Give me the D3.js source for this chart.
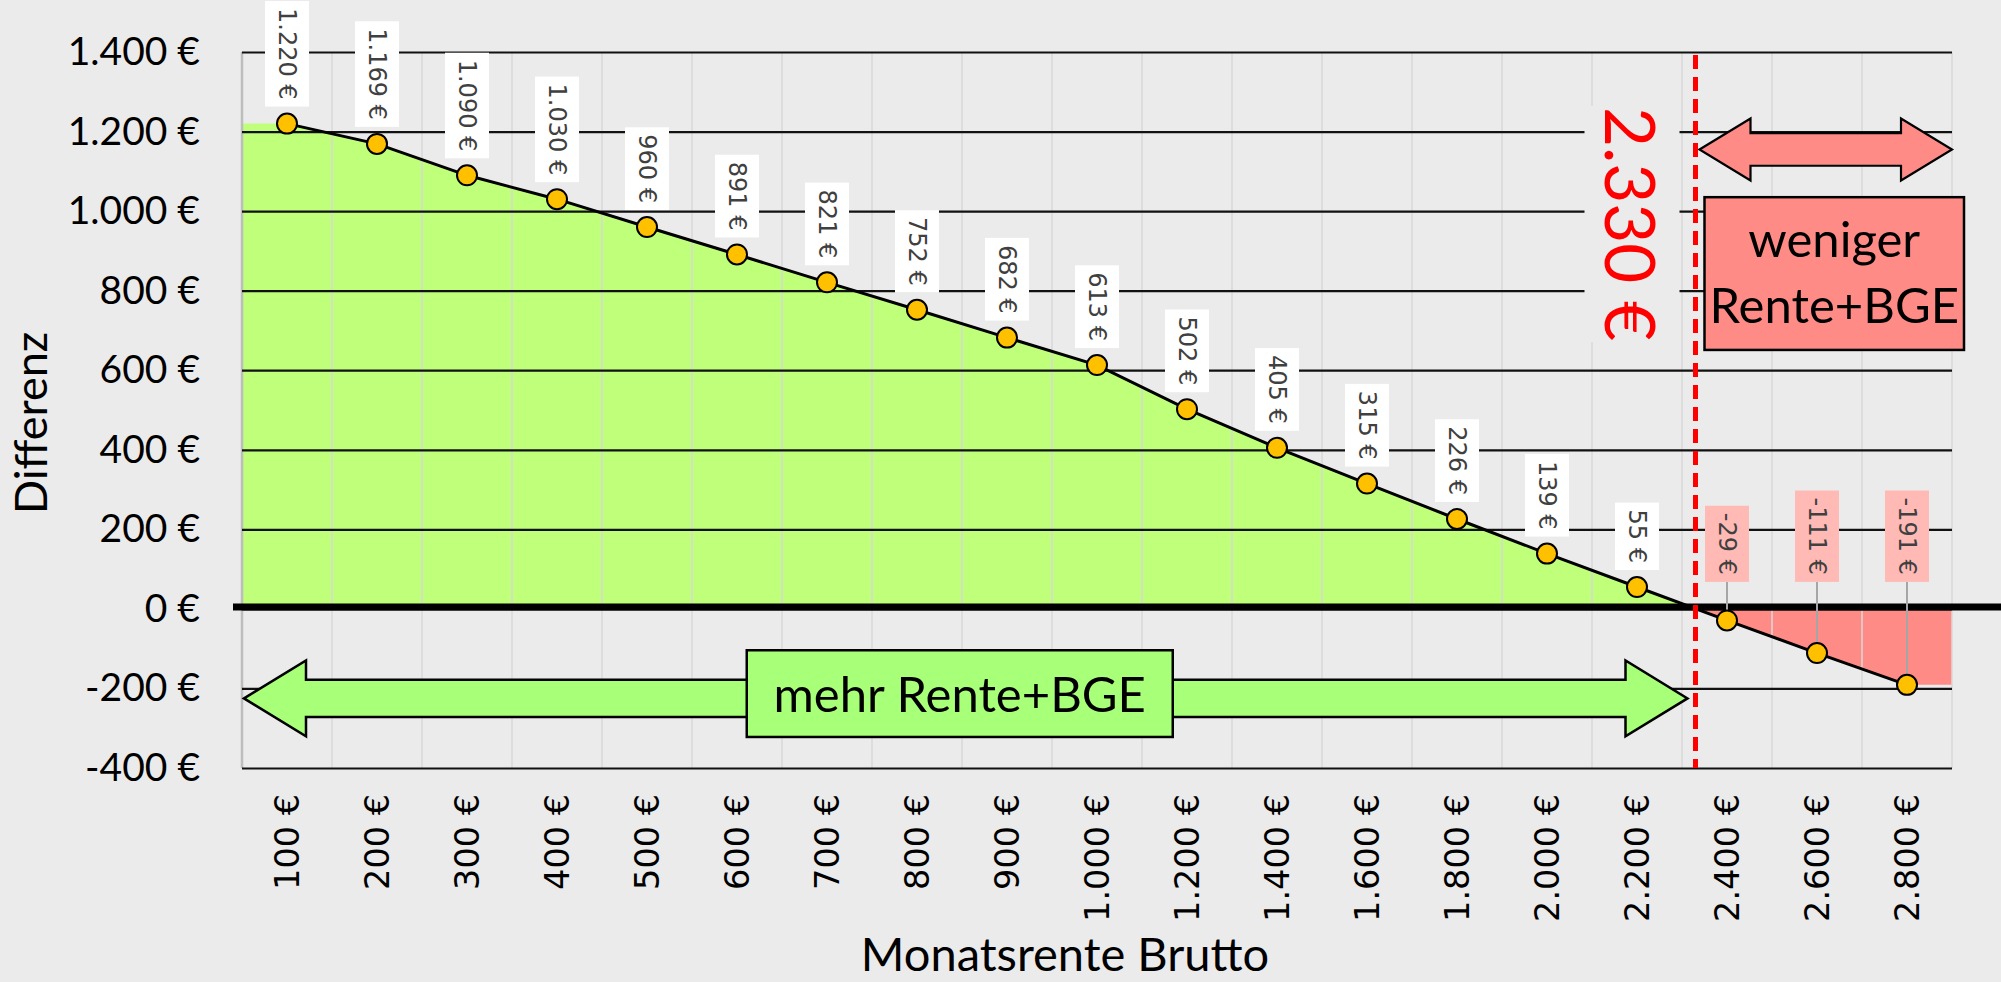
<!DOCTYPE html>
<html>
<head>
<meta charset="utf-8">
<script src="https://cdn.jsdelivr.net/npm/d3@7"></script>
<style>
  body { margin: 0; background: #ebebeb; }
  svg { display: block; }
</style>
</head>
<body>
<div id="chart"></div>
<script>
// Monatsrente Brutto -> Differenz
const categories = [100, 200, 300, 400, 500, 600, 700, 800, 900, 1000, 1200, 1400, 1600, 1800, 2000, 2200, 2400, 2600, 2800];
const diffValues = [1220, 1169, 1090, 1030, 960, 891, 821, 752, 682, 613, 502, 405, 315, 226, 139, 55, -29, -111, -191];
const yTickValues = [-400, -200, 0, 200, 400, 600, 800, 1000, 1200, 1400];
const breakEven = 2330;
const xTitle = 'Monatsrente Brutto';
const yTitle = 'Differenz';
const moreText = 'mehr Rente+BGE';
const lessText = ['weniger', 'Rente+BGE'];

const width = 2001, height = 982;
const margin = {top: 52, right: 49, bottom: 214, left: 242};
const calibri = 'Lato, "Open Sans", sans-serif';
const verdana = '"DejaVu Sans", sans-serif';

const de = d3.formatLocale({decimal: ',', thousands: '.', grouping: [3], currency: ['', ' €'], minus: '-'});
const euro = de.format('$,.0f');

const svg = d3.select('#chart').append('svg')
    .attr('width', width)
    .attr('height', height);

svg.append('rect').attr('width', width).attr('height', height).attr('fill', '#ebebeb');

const x = d3.scaleBand()
    .domain(categories)
    .range([margin.left, width - margin.right]);

const y = d3.scaleLinear()
    .domain([-400, 1400])
    .range([height - margin.bottom, margin.top]);

const xc = c => x(c) + x.bandwidth() / 2;
const plotL = margin.left, plotR = width - margin.right;
const plotT = margin.top, plotB = height - margin.bottom;

const points = categories.map((c, i) => ({c: c, v: diffValues[i], cx: xc(c), cy: y(diffValues[i])}));

// x position of the break-even value between two categories
const bi = d3.bisectRight(categories, breakEven) - 1;
const bt = (breakEven - categories[bi]) / (categories[bi + 1] - categories[bi]);
const breakX = xc(categories[bi]) + bt * (xc(categories[bi + 1]) - xc(categories[bi]));

// area, flat to the plot edges
const areaData = [{px: plotL, v: diffValues[0]}]
    .concat(points.map(p => ({px: p.cx, v: p.v})))
    .concat([{px: plotR, v: diffValues[diffValues.length - 1]}]);

const area = d3.area().x(d => d.px).y0(y(0)).y1(d => y(d.v));

const defs = svg.append('defs');
defs.append('clipPath').attr('id', 'above')
    .append('rect').attr('x', 0).attr('y', 0).attr('width', width).attr('height', y(0));
defs.append('clipPath').attr('id', 'below')
    .append('rect').attr('x', 0).attr('y', y(0)).attr('width', width).attr('height', height);

svg.append('path').datum(areaData).attr('d', area)
    .attr('fill', '#bfff7a').attr('clip-path', 'url(#above)');
svg.append('path').datum(areaData).attr('d', area)
    .attr('fill', '#ff8b87').attr('clip-path', 'url(#below)');

// vertical grid between categories
svg.append('g').selectAll('line')
    .data(d3.range(categories.length + 1))
    .join('line')
    .attr('x1', k => plotL + k * x.step())
    .attr('x2', k => plotL + k * x.step())
    .attr('y1', plotT)
    .attr('y2', plotB)
    .attr('stroke', k => k === 0 ? '#bdbdbd' : '#d9d9d9')
    .attr('stroke-width', k => k === 0 ? 2.5 : 1.5);

// y axis with horizontal grid
const yAxis = d3.axisLeft(y)
    .tickValues(yTickValues)
    .tickFormat(euro)
    .tickSize(-(plotR - plotL))
    .tickPadding(42);

const gy = svg.append('g')
    .attr('transform', `translate(${plotL},0)`)
    .call(yAxis);
gy.select('.domain').remove();
gy.selectAll('line').attr('stroke', '#111').attr('stroke-width', 2.2);
gy.selectAll('text')
    .attr('font-family', calibri)
    .attr('font-size', 39)
    .attr('fill', '#000');

// thick zero line
svg.append('line')
    .attr('x1', plotL - 9).attr('x2', width)
    .attr('y1', y(0) - 2).attr('y2', y(0) - 2)
    .attr('stroke', '#000').attr('stroke-width', 7);

// x axis labels
const xAxis = d3.axisBottom(x).tickSize(0).tickFormat(euro);
const gx = svg.append('g')
    .attr('transform', `translate(0,${plotB})`)
    .call(xAxis);
gx.select('.domain').remove();
gx.selectAll('text')
    .attr('font-family', verdana)
    .attr('font-size', 33.5)
    .attr('fill', '#000')
    .attr('text-anchor', 'end')
    .attr('transform', 'rotate(-90)')
    .attr('x', -26)
    .attr('y', 0)
    .attr('dy', '0.36em');

// axis titles
svg.append('text')
    .attr('x', 1065).attr('y', 971)
    .attr('text-anchor', 'middle')
    .attr('font-family', calibri).attr('font-size', 47)
    .text(xTitle);

svg.append('text')
    .attr('transform', 'translate(30,423) rotate(-90)')
    .attr('text-anchor', 'middle')
    .attr('dominant-baseline', 'central')
    .attr('font-family', calibri).attr('font-size', 45)
    .text(yTitle);

// arrows
function doubleArrow(x0, x1, cy, shaftH, headH, headL) {
    return `M${x0},${cy} L${x0 + headL},${cy - headH} L${x0 + headL},${cy - shaftH} L${x1 - headL},${cy - shaftH}` +
        ` L${x1 - headL},${cy - headH} L${x1},${cy} L${x1 - headL},${cy + headH} L${x1 - headL},${cy + shaftH}` +
        ` L${x0 + headL},${cy + shaftH} L${x0 + headL},${cy + headH} Z`;
}

const greenL = plotL + 2, greenR = breakX - 8;
svg.append('path')
    .attr('d', doubleArrow(greenL, greenR, y(-225), 18.7, 38, 62))
    .attr('fill', '#a8ff78').attr('stroke', '#000').attr('stroke-width', 2.5);

const moreCx = (greenL + greenR) / 2 - 6;
svg.append('rect')
    .attr('x', moreCx - 213).attr('y', y(-104))
    .attr('width', 426).attr('height', y(-322) - y(-104))
    .attr('fill', '#a8ff78').attr('stroke', '#000').attr('stroke-width', 2.5);
svg.append('text')
    .attr('x', moreCx).attr('y', y(-260))
    .attr('text-anchor', 'middle')
    .attr('font-family', calibri).attr('font-size', 49)
    .text(moreText);

svg.append('path')
    .attr('d', doubleArrow(breakX + 4, plotR, y(1155), 16.3, 31, 51))
    .attr('fill', '#ff8b87').attr('stroke', '#000').attr('stroke-width', 2.2);

const lessL = breakX + 9, lessR = plotR + 12;
svg.append('rect')
    .attr('x', lessL).attr('y', y(1035))
    .attr('width', lessR - lessL).attr('height', y(651) - y(1035))
    .attr('fill', '#ff8b87').attr('stroke', '#000').attr('stroke-width', 2.5);
svg.append('g').selectAll('text')
    .data(lessText)
    .join('text')
    .attr('x', (lessL + lessR) / 2)
    .attr('y', (d, i) => 257 + i * 66)
    .attr('text-anchor', 'middle')
    .attr('font-family', calibri).attr('font-size', 49)
    .text(d => d);

// break-even value
svg.append('rect')
    .attr('x', breakX - 111).attr('y', 106)
    .attr('width', 95).attr('height', 236)
    .attr('fill', '#ebebeb');
svg.append('text')
    .attr('transform', `translate(${breakX - 64},224) rotate(90)`)
    .attr('text-anchor', 'middle')
    .attr('dominant-baseline', 'central')
    .attr('font-family', calibri).attr('font-size', 69)
    .attr('fill', '#ff0000')
    .text(euro(breakEven));

// series line and labels
const labelBottom = p => Math.min(p.cy - 17, y(0) - 27);

svg.append('g').selectAll('line')
    .data(points.filter(p => labelBottom(p) < p.cy - 18))
    .join('line')
    .attr('x1', p => p.cx).attr('x2', p => p.cx)
    .attr('y1', p => labelBottom(p)).attr('y2', p => p.cy)
    .attr('stroke', '#a6a6a6').attr('stroke-width', 2);

svg.append('path')
    .datum(points)
    .attr('d', d3.line().x(p => p.cx).y(p => p.cy))
    .attr('fill', 'none').attr('stroke', '#000').attr('stroke-width', 3);

svg.append('g').selectAll('circle')
    .data(points)
    .join('circle')
    .attr('cx', p => p.cx).attr('cy', p => p.cy).attr('r', 10)
    .attr('fill', '#ffc000').attr('stroke', '#000').attr('stroke-width', 2);

const labels = svg.append('g').selectAll('g')
    .data(points)
    .join('g');

labels.each(function (p) {
    const g = d3.select(this);
    const rect = g.append('rect');
    const t = g.append('text')
        .attr('transform', 'rotate(90)')
        .attr('text-anchor', 'middle')
        .attr('dominant-baseline', 'central')
        .attr('font-family', verdana).attr('font-size', 24)
        .attr('fill', '#404040')
        .text(euro(p.v));
    const h = t.node().getComputedTextLength() + 14;
    const w = 44;
    rect.attr('x', -w / 2).attr('y', -h / 2).attr('width', w).attr('height', h)
        .attr('fill', p.v < 0 ? '#ffbab6' : '#ffffff');
    g.attr('transform', `translate(${p.cx},${labelBottom(p) - h / 2})`);
});

// break-even line
svg.append('line')
    .attr('x1', breakX).attr('x2', breakX)
    .attr('y1', plotT + 3).attr('y2', plotB)
    .attr('stroke', '#ff0000').attr('stroke-width', 5)
    .attr('stroke-dasharray', '14 8');
</script>
</body>
</html>
